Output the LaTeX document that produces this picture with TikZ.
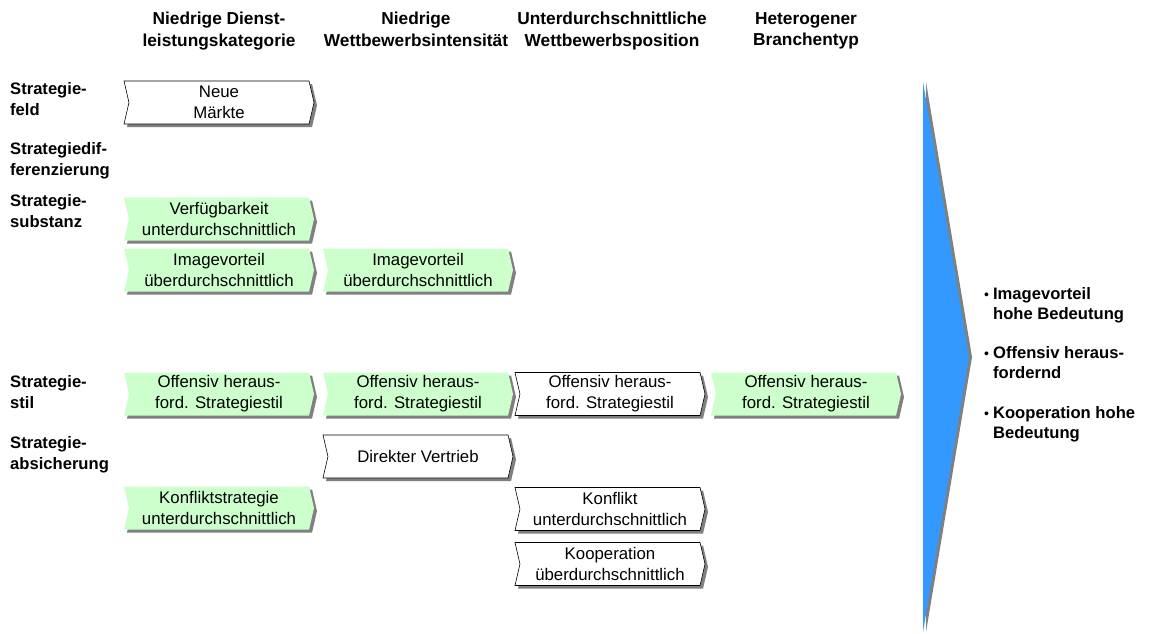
\documentclass[tikz,border=0pt]{standalone}
\usepackage{fontspec}
\setmainfont{Liberation Sans}
\usetikzlibrary{shapes.symbols,shadows}
\definecolor{boxgreen}{RGB}{204,255,204}
\definecolor{arrowblue}{RGB}{51,153,255}
\definecolor{shadowgray}{RGB}{128,128,128}
\begin{document}
\begin{tikzpicture}[x=1pt,y=-1pt,
  chev/.style={signal, signal from=west, signal to=east, signal pointer angle=154,
    minimum width=190pt, minimum height=43pt, inner sep=0pt, align=center,
    font=\fontsize{16.8}{20.8}\selectfont,
    drop shadow={shadow xshift=3pt, shadow yshift=-3pt, fill=shadowgray, opacity=1}},
  wbox/.style={chev, fill=white, draw=black, line width=0.6pt},
  gbox/.style={chev, fill=boxgreen, draw=none},
  header/.style={anchor=north, align=center, inner sep=0pt, font=\bfseries\fontsize{17.3}{21.5}\selectfont},
  rowlabel/.style={anchor=north west, align=left, inner sep=0pt, font=\bfseries\fontsize{16.6}{21}\selectfont},
  result/.style={anchor=north west, align=left, inner sep=0pt, font=\bfseries\fontsize{16.6}{20}\selectfont}]
\useasboundingbox (0,0) rectangle (1167,634);

% column headers
\node[header] (h1) at (219,12) {Niedrige Dienst-\\leistungskategorie};
\node[header] (h2) at (416,12) {Niedrige\\Wettbewerbsintensität};
\node[header] (h3) at (612,12) {Unterdurchschnittliche\\Wettbewerbsposition};
\node[header] (h4) at (806,12) {Heterogener\\Branchentyp};

% row labels
\node[rowlabel] (l1) at (10,82) {Strategie-\\feld};
\node[rowlabel] (l2) at (10,142) {Strategiedif-\\ferenzierung};
\node[rowlabel] (l3) at (10,194) {Strategie-\\substanz};
\node[rowlabel] (l4) at (10,375) {Strategie-\\stil};
\node[rowlabel] (l5) at (10,436) {Strategie-\\absicherung};

% column 1
\node[wbox] (c1a) at (219,102.5) {Neue\\Märkte};
\node[gbox] (c1b) at (219,219) {Verfügbarkeit\\unterdurchschnittlich};
\node[gbox] (c1c) at (219,270) {Imagevorteil\\überdurchschnittlich};
\node[gbox] (c1d) at (219,394) {Offensiv heraus-\\ford. Strategiestil};
\node[gbox] (c1e) at (219,508) {Konfliktstrategie\\unterdurchschnittlich};

% column 2
\node[gbox] (c2a) at (418,270) {Imagevorteil\\überdurchschnittlich};
\node[gbox] (c2b) at (418,394) {Offensiv heraus-\\ford. Strategiestil};
\node[wbox] (c2c) at (418,456.5) {Direkter Vertrieb};

% column 3
\node[wbox] (c3a) at (610,394) {Offensiv heraus-\\ford. Strategiestil};
\node[wbox] (c3b) at (610,509) {Konflikt\\unterdurchschnittlich};
\node[wbox] (c3c) at (610,564) {Kooperation\\überdurchschnittlich};

% column 4
\node[gbox] (c4a) at (806,394) {Offensiv heraus-\\ford. Strategiestil};

% big arrow
\coordinate (at) at (923,82);
\coordinate (ap) at (969,357);
\coordinate (ab) at (923,632);
\fill[shadowgray] ([xshift=3pt]at) -- ([xshift=3pt]ap) -- ([xshift=3pt]ab) -- cycle;
\fill[arrowblue] (at) -- (ap) -- (ab) -- cycle;

% result text
\node[result] (r) at (984,285) {%
  \begin{tabular}{@{}l@{\hspace{4pt}}l@{}}
  {\mdseries\fontsize{14}{14}\selectfont •} & Imagevorteil\\
   & hohe Bedeutung\\[19.5pt]
  {\mdseries\fontsize{14}{14}\selectfont •} & Offensiv heraus-\\
   & fordernd\\[19.5pt]
  {\mdseries\fontsize{14}{14}\selectfont •} & Kooperation hohe\\
   & Bedeutung
  \end{tabular}};
\end{tikzpicture}
\end{document}
